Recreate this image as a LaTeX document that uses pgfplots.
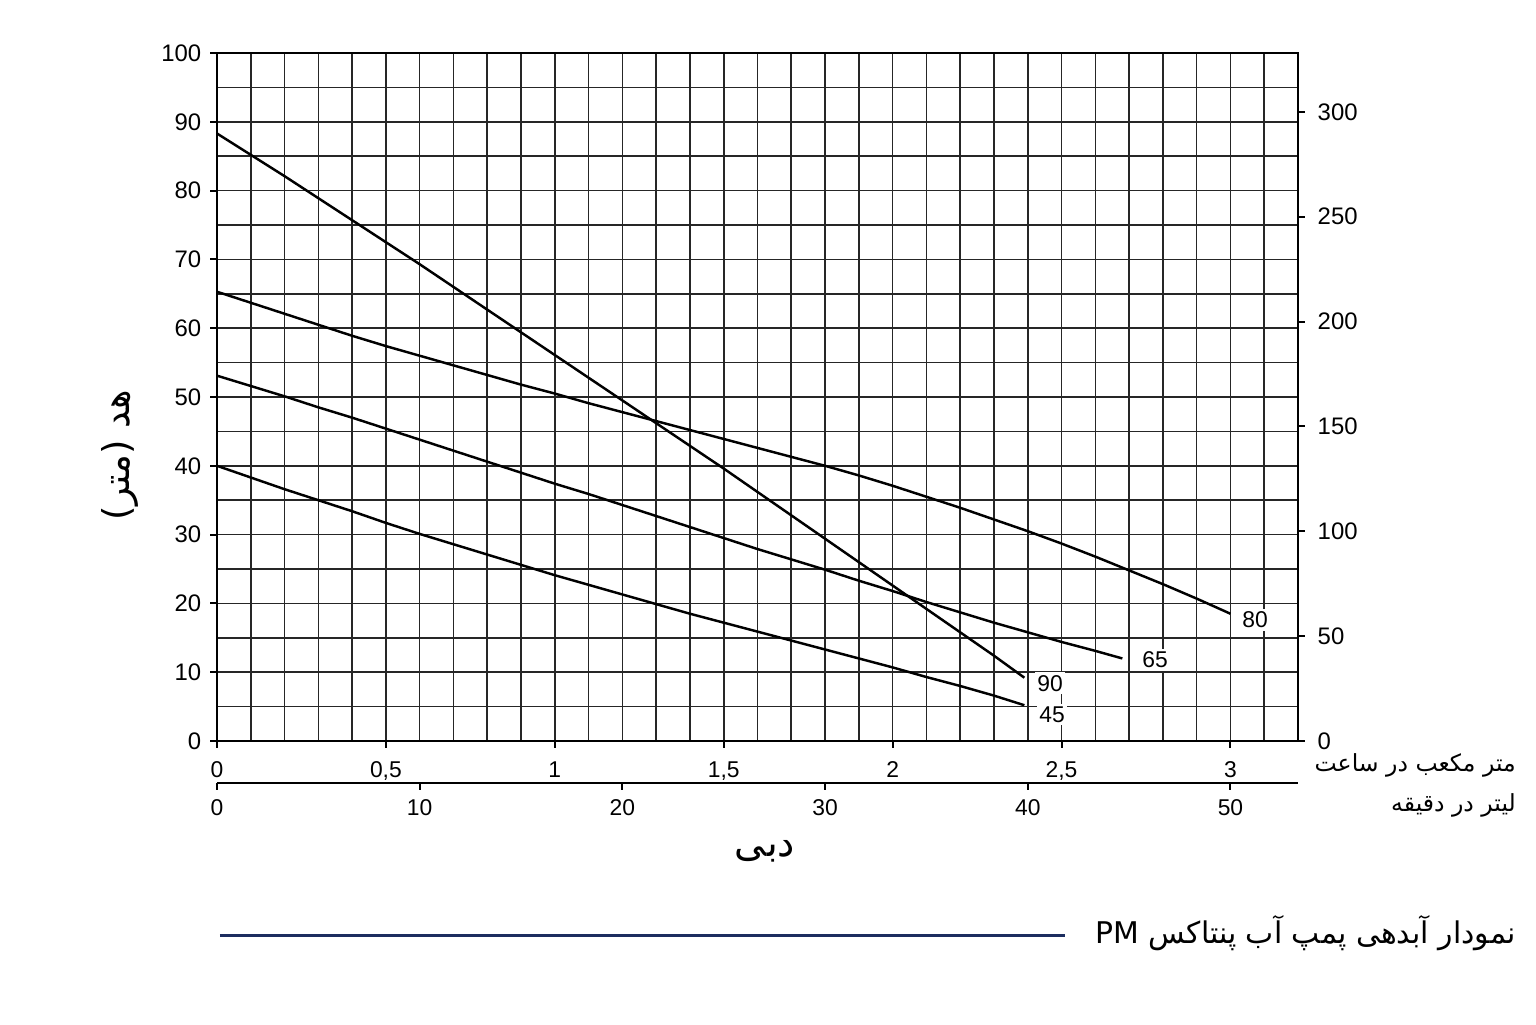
\documentclass[border=0pt]{standalone}
\usepackage{fontspec}
\setmainfont{Liberation Sans}
\newfontfamily\fa[Script=Arabic]{DejaVu Sans}
\TeXXeTstate=1
\usepackage{pgfplots}
\pgfplotsset{compat=1.18}

\definecolor{navy}{RGB}{28,45,95}

% 1 px of the reference = 0.02cm
\pgfplotsset{
  pumpbase/.style={
    scale only axis,
    width=21.62cm, height=13.76cm,
    /pgf/number format/assume math mode=true,
    /pgf/number format/use comma,
    tick align=outside,
    major tick length=0.13cm,
    minor tick length=0pt,
    tick style={black, line width=1.1pt},
    axis line style={black, line width=1.5pt},
  },
  curve/.style={black, line width=1.4pt, mark=none},
}

\begin{document}
\begin{tikzpicture}
\path[use as bounding box] (-4.34,-5.66) rectangle (26.38,14.82);

% head (m) against flow (m3/h)
\begin{axis}[
  pumpbase,
  xmin=0, xmax=3.2, ymin=0, ymax=100,
  xtick={0,0.5,...,3}, minor xtick={0.1,0.2,...,3.15},
  ytick={0,10,...,100}, minor ytick={5,15,...,95},
  xtick pos=bottom, ytick pos=left,
  grid=both,
  major grid style={black!85, line width=0.9pt},
  minor grid style={black!85, line width=0.9pt},
  xticklabel style={font=\fontsize{13}{13}\selectfont, yshift=-0.16cm},
  yticklabel style={font=\fontsize{13.6}{14}\selectfont, xshift=-0.06cm},
]
% PM90
\addplot[curve] coordinates {
  (0,88.3) (0.1,85.2) (0.2,82.1) (0.3,78.9) (0.4,75.7) (0.5,72.5)
  (0.6,69.3) (0.7,66.0) (0.8,62.7) (0.9,59.4) (1.0,56.1) (1.1,52.8)
  (1.2,49.5) (1.3,46.2) (1.4,42.9) (1.5,39.6) (1.6,36.2) (1.7,32.8)
  (1.8,29.4) (1.9,26.0) (2.0,22.6) (2.1,19.2) (2.2,15.8) (2.3,12.4)
  (2.39,9.2)
};
% PM80
\addplot[curve] coordinates {
  (0,65.3) (0.1,63.7) (0.2,62.1) (0.3,60.5) (0.4,58.9) (0.5,57.4)
  (0.6,56.0) (0.7,54.6) (0.8,53.2) (0.9,51.8) (1.0,50.5) (1.1,49.1)
  (1.2,47.8) (1.3,46.5) (1.4,45.2) (1.5,43.9) (1.6,42.6) (1.7,41.3)
  (1.8,40.0) (1.9,38.6) (2.0,37.1) (2.1,35.5) (2.2,33.9) (2.3,32.2)
  (2.4,30.5) (2.5,28.7) (2.6,26.8) (2.7,24.8) (2.8,22.8) (2.9,20.7)
  (3.0,18.5)
};
% PM65
\addplot[curve] coordinates {
  (0,53.1) (0.1,51.6) (0.2,50.1) (0.3,48.5) (0.4,47.0) (0.5,45.4)
  (0.6,43.8) (0.7,42.2) (0.8,40.6) (0.9,39.0) (1.0,37.4) (1.1,35.9)
  (1.2,34.3) (1.3,32.7) (1.4,31.1) (1.5,29.5) (1.6,27.9) (1.7,26.4)
  (1.8,24.9) (1.9,23.3) (2.0,21.8) (2.1,20.2) (2.2,18.7) (2.3,17.2)
  (2.4,15.8) (2.5,14.4) (2.6,13.1) (2.68,12.0)
};
% PM45
\addplot[curve] coordinates {
  (0,40.0) (0.1,38.3) (0.2,36.6) (0.3,35.0) (0.4,33.4) (0.5,31.7)
  (0.6,30.1) (0.7,28.6) (0.8,27.1) (0.9,25.6) (1.0,24.1) (1.1,22.7)
  (1.2,21.3) (1.3,19.9) (1.4,18.5) (1.5,17.2) (1.6,15.9) (1.7,14.6)
  (1.8,13.3) (1.9,12.0) (2.0,10.7) (2.1,9.3) (2.2,8.0) (2.3,6.6)
  (2.39,5.2)
};
\begin{scope}[every node/.style={fill=white, inner sep=1.5pt, font=\fontsize{13}{13}\selectfont}]
\node at (axis cs:3.073,17.6) {80};
\node at (axis cs:2.777,11.8) {65};
\node at (axis cs:2.466,8.4) {90};
\node at (axis cs:2.472,3.8) {45};
\end{scope}
\end{axis}

% head in feet on the right
\begin{axis}[
  pumpbase,
  xmin=0, xmax=3.2, ymin=0, ymax=328.084,
  axis x line=none, axis y line*=right,
  ytick={0,50,...,300},
  yticklabel style={font=\fontsize{13.6}{14}\selectfont, xshift=0.14cm},
]
\end{axis}

% flow in litres per minute
\begin{axis}[
  pumpbase,
  at={(0,-0.84cm)}, height=1cm,
  xmin=0, xmax=53.333, ymin=0, ymax=1,
  axis y line=none, axis x line*=bottom,
  xtick={0,10,...,50},
  xticklabel style={font=\fontsize{13}{13}\selectfont, yshift=-0.08cm},
]
\end{axis}

\node[rotate=90, font=\fa\fontsize{21}{21}\selectfont] at (-1.94,5.72) {\beginR هد (متر)\endR};
\node[font=\fa\fontsize{22}{22}\selectfont] at (10.96,-2.2) {\beginR دبی\endR};
\node[anchor=east, font=\fa\fontsize{13.4}{14}\selectfont] at (26.1,-0.48) {\beginR متر مکعب در ساعت\endR};
\node[anchor=east, font=\fa\fontsize{13.4}{14}\selectfont] at (26.1,-1.28) {\beginR لیتر در دقیقه\endR};
\node[anchor=east, font=\fa\fontsize{17}{17}\selectfont] at (26.1,-3.84) {\beginR نمودار آبدهی پمپ آب پنتاکس \beginL PM\endL\endR};
\draw[navy, line width=1.7pt] (0.06,-3.88) -- (16.96,-3.88);
\end{tikzpicture}
\end{document}
